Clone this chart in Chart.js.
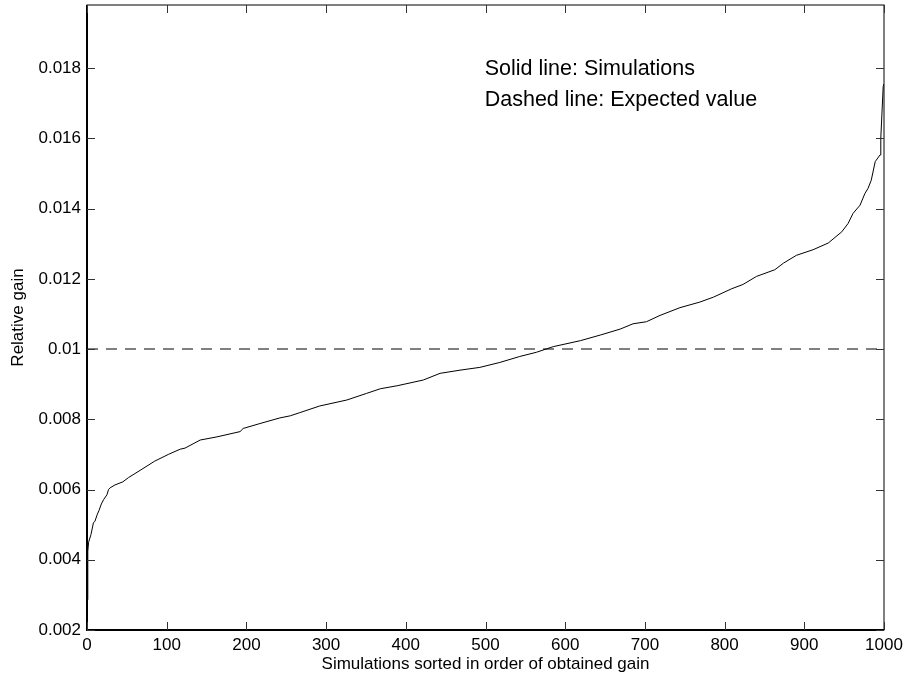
<!DOCTYPE html>
<html>
<head>
<meta charset="utf-8">
<script src="https://cdn.jsdelivr.net/npm/chart.js@4/dist/chart.umd.min.js"></script>
<style>
  html, body { margin: 0; padding: 0; background: #fff; }
  #wrap { width: 906px; height: 677px; }
</style>
</head>
<body>
<div id="wrap"><canvas id="gainChart"></canvas></div>
<script>
// Sorted simulation results
const simIndex = [0, 1, 2, 5, 8, 10, 13, 15, 18, 21, 25, 27, 29, 35, 45, 52, 69, 85, 102, 117, 123,
  142, 163, 192, 196, 217, 242, 255, 267, 292, 326, 351, 368, 390, 422, 443, 468, 493, 518, 543,
  564, 585, 619, 644, 669, 685, 702, 719, 744, 769, 786, 809, 823, 840, 863, 874, 890, 911, 930,
  947, 955, 961, 970, 976, 980, 984, 989, 995, 996, 999, 1000];
const simGain = [0.00286, 0.00424, 0.0045, 0.00472, 0.00505, 0.0051, 0.0053, 0.0054, 0.00559, 0.00572,
  0.00585, 0.006, 0.00605, 0.00613, 0.00622, 0.00634, 0.00658, 0.00681, 0.007, 0.00715, 0.00718,
  0.00741, 0.0075, 0.00765, 0.00774, 0.00788, 0.00804, 0.0081, 0.00819, 0.00838, 0.00855, 0.00874,
  0.00887, 0.00896, 0.00912, 0.00931, 0.0094, 0.00948, 0.00962, 0.00979, 0.00991, 0.01007, 0.01024,
  0.0104, 0.01057, 0.01072, 0.01078, 0.01096, 0.01118, 0.01134, 0.01148, 0.01172, 0.01184, 0.01207,
  0.01226, 0.01245, 0.01267, 0.01283, 0.01302, 0.01334, 0.01358, 0.01386, 0.0141, 0.01443, 0.01458,
  0.01481, 0.01534, 0.01553, 0.01601, 0.01748, 0.01755];

// Expected value line
const expectedIndex = [0, 1000];
const expectedGain = [0.01, 0.01];

const xTicks = [0, 100, 200, 300, 400, 500, 600, 700, 800, 900, 1000];
const yTicks = [0.002, 0.004, 0.006, 0.008, 0.01, 0.012, 0.014, 0.016, 0.018];

const FONT = '"Liberation Sans", Arial, Helvetica, sans-serif';

// frame + inward tick marks on all four sides, plus the two text notes
const framePlugin = {
  id: 'frame',
  afterDraw(chart) {
    const { ctx, chartArea: a, scales } = chart;
    ctx.save();
    ctx.strokeStyle = '#000';
    ctx.lineWidth = 1;
    ctx.strokeRect(a.left, a.top, a.right - a.left, a.bottom - a.top);
    ctx.lineWidth = 2;
    ctx.beginPath();
    ctx.moveTo(a.left, a.top); ctx.lineTo(a.left, a.bottom); ctx.lineTo(a.right, a.bottom);
    ctx.stroke();

    ctx.lineWidth = 1;
    ctx.strokeStyle = '#333';
    ctx.beginPath();
    xTicks.forEach(v => {
      const px = Math.round(scales.x.getPixelForValue(v)) + 0.5;
      ctx.moveTo(px, a.bottom); ctx.lineTo(px, a.bottom - 8);
      ctx.moveTo(px, a.top); ctx.lineTo(px, a.top + 8);
    });
    yTicks.forEach(v => {
      const py = Math.round(scales.y.getPixelForValue(v)) + 0.5;
      ctx.moveTo(a.left, py); ctx.lineTo(a.left + 8, py);
      ctx.moveTo(a.right, py); ctx.lineTo(a.right - 8, py);
    });
    ctx.stroke();

    ctx.fillStyle = '#000';
    ctx.font = '21.5px ' + FONT;
    ctx.textBaseline = 'alphabetic';
    const tx = scales.x.getPixelForValue(499);
    ctx.fillText('Solid line: Simulations', tx, scales.y.getPixelForValue(0.01781));
    ctx.fillText('Dashed line: Expected value', tx, scales.y.getPixelForValue(0.01693));
    ctx.restore();
  }
};

const ctx = document.getElementById('gainChart').getContext('2d');
const gainChart = new Chart(ctx, {
  type: 'line',
  data: {
    datasets: [{
      label: 'Simulations',
      data: simIndex.map((x, i) => ({ x: x, y: simGain[i] })),
      borderColor: '#000',
      borderWidth: 1,
      pointRadius: 0,
      tension: 0
    }, {
      label: 'Expected value',
      data: expectedIndex.map((x, i) => ({ x: x, y: expectedGain[i] })),
      borderColor: '#808080',
      borderWidth: 2,
      borderDash: [11, 8],
      pointRadius: 0
    }]
  },
  options: {
    responsive: true,
    maintainAspectRatio: false,
    animation: false,
    layout: { padding: { left: 0, right: 22, top: 5, bottom: 0 } },
    plugins: { legend: { display: false }, tooltip: { enabled: false } },
    scales: {
      x: {
        type: 'linear',
        min: 0, max: 1000,
        grid: { display: false, drawTicks: false },
        border: { display: false },
        afterBuildTicks: s => { s.ticks = xTicks.map(v => ({ value: v })); },
        afterFit: s => { s.height = 47; s.paddingLeft = 0; s.paddingRight = 0; },
        ticks: {
          color: '#000', padding: 5, maxRotation: 0, font: { family: FONT, size: 17 },
          callback: v => String(v)
        },
        title: {
          display: true, text: 'Simulations sorted in order of obtained gain',
          color: '#000', font: { family: FONT, size: 17 }, padding: { top: 0, bottom: 2 }
        }
      },
      y: {
        min: 0.002, max: 0.0198,
        grid: { display: false, drawTicks: false },
        border: { display: false },
        afterBuildTicks: s => { s.ticks = yTicks.map(v => ({ value: v })); },
        afterFit: s => { s.width = 87; s.paddingTop = 0; s.paddingBottom = 0; },
        ticks: {
          color: '#000', padding: 6, font: { family: FONT, size: 17 },
          callback: v => String(+v.toFixed(3))
        },
        title: {
          display: true, text: 'Relative gain',
          color: '#000', font: { family: FONT, size: 17 }, padding: { top: 8, bottom: 0 }
        }
      }
    }
  },
  plugins: [framePlugin]
});
</script>
</body>
</html>
